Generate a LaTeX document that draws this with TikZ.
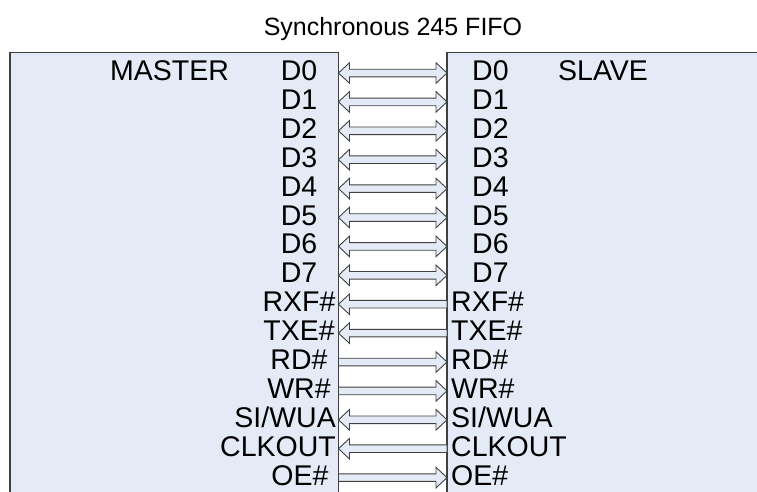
\documentclass[tikz,border=0pt]{standalone}
\usepackage{fontspec}
\setmainfont{Liberation Sans}
\usepackage{tikz}
\usetikzlibrary{calc}

\definecolor{panelblue}{RGB}{229,235,246}
\definecolor{edgegray}{RGB}{64,64,64}

\begin{document}
\begin{tikzpicture}[
		x=1pt,y=-1pt,
		panel/.style={draw=edgegray,line width=1.4pt,fill=panelblue},
		pin/.style={font=\fontsize{28.5}{28.5}\selectfont,inner sep=0pt},
		heading/.style={font=\fontsize{25}{25}\selectfont,inner sep=0pt},
		bus/.style={draw=edgegray,line width=0.9pt,fill=panelblue,line join=miter},
		both way/.style={bus,to path={let \p1=(\tikztostart),\p2=(\tikztotarget) in
			(\x1,\y1) -- (\x1+11pt,\y1+10.3pt) -- (\x1+11pt,\y1+3.8pt)
			-- (\x2-11pt,\y1+3.8pt) -- (\x2-11pt,\y1+10.3pt) -- (\x2,\y1)
			-- (\x2-11pt,\y1-10.3pt) -- (\x2-11pt,\y1-3.8pt)
			-- (\x1+11pt,\y1-3.8pt) -- (\x1+11pt,\y1-10.3pt) -- cycle}},
		to master/.style={bus,to path={let \p1=(\tikztostart),\p2=(\tikztotarget) in
			(\x1,\y1) -- (\x1+11pt,\y1+10.3pt) -- (\x1+11pt,\y1+3.8pt)
			-- (\x2,\y1+3.8pt) -- (\x2,\y1-3.8pt)
			-- (\x1+11pt,\y1-3.8pt) -- (\x1+11pt,\y1-10.3pt) -- cycle}},
		to slave/.style={bus,to path={let \p1=(\tikztostart),\p2=(\tikztotarget) in
			(\x1,\y1+3.8pt) -- (\x2-11pt,\y1+3.8pt) -- (\x2-11pt,\y1+10.3pt)
			-- (\x2,\y1) -- (\x2-11pt,\y1-10.3pt) -- (\x2-11pt,\y1-3.8pt)
			-- (\x1,\y1-3.8pt) -- cycle}}
	]
		\useasboundingbox (0,0) rectangle (757,491);
		\clip (0,0) rectangle (757,491);

		% The two chips run past the bottom and right edge of the page.
		\draw[panel] (10,52.5) rectangle (338.5,520);
		\draw[panel] (447,52.5) rectangle (800,520);

		\node[heading,anchor=base] (title) at (393,35) {Synchronous 245 FIFO};
		\node[pin,anchor=base west] (master) at (110,80.5) {MASTER};
		\node[pin,anchor=base west] (slave) at (558,80.5) {SLAVE};

		% Data bus, driven both ways.
		\foreach \i in {0,...,7}{
			\coordinate (mp\i) at (338.5,73+28.9*\i);
			\coordinate (sp\i) at (447,73+28.9*\i);
			\draw[both way] (mp\i) to (sp\i);
			\node[pin,anchor=base] (ml\i) at (299,80.5+28.9*\i) {D\i};
			\node[pin,anchor=base west] (sl\i) at (472,80.5+28.9*\i) {D\i};
		}

		% Control lines.
		\foreach \lab/\kind/\side/\lx [count=\j from 8] in {
			RXF\#/to master/base/299,
			TXE\#/to master/base/299,
			RD\#/to slave/base/299,
			WR\#/to slave/base/299,
			{SI/WUA}/both way/base east/336,
			CLKOUT/to master/base east/336,
			OE\#/to slave/base/300}{
			\coordinate (mp\j) at (338.5,73+28.9*\j);
			\coordinate (sp\j) at (447,73+28.9*\j);
			\draw[\kind] (mp\j) to (sp\j);
			\node[pin,anchor=\side] (ml\j) at (\lx,80.5+28.9*\j) {\lab};
			\node[pin,anchor=base west] (sl\j) at (451,80.5+28.9*\j) {\lab};
		}
	\end{tikzpicture}
\end{document}
